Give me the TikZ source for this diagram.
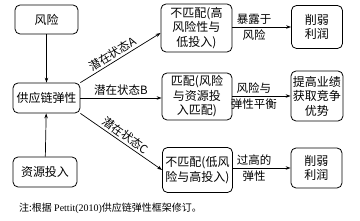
\documentclass[tikz,border=0pt]{standalone}
\usepackage{fontspec}
\setmainfont{Noto Sans CJK SC}
\newfontfamily\latinfont{Liberation Serif}
\usetikzlibrary{arrows.meta}
\tikzset{
  kuang/.style={draw, line width=0.8pt, rounded corners=5pt, align=center, inner sep=1.5pt, font=\fontsize{12}{14.5}\selectfont},
  jiantou/.style={-{Stealth[length=5pt,width=3.5pt]}, line width=0.7pt},
  biaoqian/.style={font=\fontsize{11.5}{13}\selectfont, inner sep=2pt}
}
\begin{document}
\begin{tikzpicture}[x=1pt,y=-1pt]
        \useasboundingbox (0,0) rectangle (360,221);

        % Lewa kolumna
        \node[kuang, minimum width=63pt, minimum height=29pt] (fengxian) at (46.5,19.5) {风险};
        \node[kuang, minimum width=67pt, minimum height=30pt] (tanxing) at (46.5,98) {供应链弹性};
        \node[kuang, minimum width=64pt, minimum height=30pt] (touru) at (45,172) {资源投入};

        % Srodkowa kolumna
        \node[kuang, minimum width=71pt, minimum height=48pt] (zhuangtaiA) at (196.5,28) {不匹配(高\\风险性与\\低投入)};
        \node[kuang, minimum width=70pt, minimum height=47pt] (zhuangtaiB) at (197,96.5) {匹配(风险\\与资源投\\入匹配)};
        \node[kuang, minimum width=70pt, minimum height=45pt] (zhuangtaiC) at (197.5,170) {不匹配(低风\\险与高投入)};

        % Prawa kolumna
        \node[kuang, minimum width=51pt, minimum height=43pt] (jieguoA) at (317,27) {削弱\\利润};
        \node[kuang, minimum width=52pt, minimum height=50pt] (jieguoB) at (317,96) {提高业绩\\获取竞争\\优势};
        \node[kuang, minimum width=51pt, minimum height=40pt] (jieguoC) at (316.5,168) {削弱\\利润};

        % Strzalki
        \draw[jiantou] (fengxian) -- (tanxing);
        \draw[jiantou] (touru) -- (tanxing);
        \draw[jiantou] (tanxing.north east) -- ([yshift=-5pt]zhuangtaiA.west)
            node[biaoqian, pos=0.45, sloped, above] {潜在状态A};
        \draw[jiantou] (tanxing.east) -- (tanxing.east -| zhuangtaiB.west)
            node[biaoqian, midway, above] {潜在状态B};
        \draw[jiantou] (tanxing.south east) -- (zhuangtaiC.west)
            node[biaoqian, midway, sloped, above] {潜在状态C};

        \draw[jiantou] (zhuangtaiA.east |- jieguoA) -- (jieguoA.west)
            node[biaoqian, pos=0.37, above] {暴露于} node[biaoqian, pos=0.37, below] {风险};
        \draw[jiantou] (zhuangtaiB.east |- jieguoB) -- (jieguoB.west)
            node[biaoqian, pos=0.37, above] {风险与} node[biaoqian, pos=0.37, below] {弹性平衡};
        \draw[jiantou] (zhuangtaiC.east |- jieguoC) -- (jieguoC.west)
            node[biaoqian, pos=0.37, above] {过高的} node[biaoqian, pos=0.37, below] {弹性};

        % Uwaga
        \node[font=\fontsize{10}{12}\selectfont, anchor=west, inner sep=0pt] (zhu) at (19,208) {注:根据 {\latinfont Pettit(2010)}供应链弹性框架修订。};
    \end{tikzpicture}
\end{document}
